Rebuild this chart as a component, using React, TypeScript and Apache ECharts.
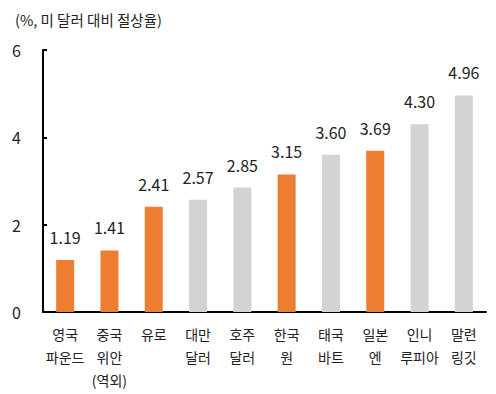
import React, { useEffect, useRef } from "react";
import * as echarts from "echarts";

const categories = ["영국\n파운드", "중국\n위안\n(역외)", "유로", "대만\n달러", "호주\n달러", "한국\n원", "태국\n바트", "일본\n엔", "인니\n루피아", "말련\n링깃"];
const values = [1.19, 1.41, 2.41, 2.57, 2.85, 3.15, 3.6, 3.69, 4.3, 4.96];
const highlighted = [true, true, true, false, false, true, false, true, false, false];
const yTicks = [0, 2, 4, 6];
const title = "(%, 미 달러 대비 절상율)";

const ORANGE = "#ED7D31";
const GRAY = "#D3D3D3";
const FONT = "'Noto Sans CJK KR', 'Noto Sans', sans-serif";

export default function App() {
  const ref = useRef<HTMLDivElement>(null);
  useEffect(() => {
    const chart = echarts.init(ref.current!, null, { renderer: "svg" });
    chart.setOption({
      animation: false,
      textStyle: { fontFamily: FONT },
      title: {
        text: title,
        left: 10,
        top: 7,
        textStyle: { fontSize: 14.5, fontWeight: "normal", color: "#222", fontFamily: FONT },
      },
      grid: { left: 43, right: 10, top: 50, bottom: 82 },
      xAxis: {
        type: "category",
        data: categories,
        axisLine: { lineStyle: { color: "#000", width: 2 } },
        axisTick: { inside: true, length: 5, lineStyle: { color: "#000", width: 2 } },
        axisLabel: {
          interval: 0,
          color: "#222",
          fontSize: 14,
          lineHeight: 23,
          margin: 10,
          verticalAlign: "top",
          fontFamily: FONT,
        },
      },
      yAxis: {
        type: "value",
        min: yTicks[0],
        max: yTicks[yTicks.length - 1],
        interval: 2,
        splitLine: { show: false },
        axisLine: { show: true, lineStyle: { color: "#000", width: 2 } },
        axisTick: { show: true, inside: true, length: 4, lineStyle: { color: "#000", width: 2 } },
        axisLabel: { color: "#222", fontSize: 16, margin: 22, fontFamily: FONT },
      },
      series: [
        {
          type: "bar",
          barWidth: 18,
          data: values.map((v, i) => ({
            value: v,
            itemStyle: { color: highlighted[i] ? ORANGE : GRAY },
          })),
          label: {
            show: true,
            position: "top",
            distance: 15,
            color: "#222",
            fontSize: 16,
            fontFamily: FONT,
            formatter: (p: any) => Number(p.value).toFixed(2),
          },
        },
      ],
    });
    return () => chart.dispose();
  }, []);
  return <div ref={ref} style={{ width: 496, height: 394, position: "absolute", left: 0, top: 0 }} />;
}
